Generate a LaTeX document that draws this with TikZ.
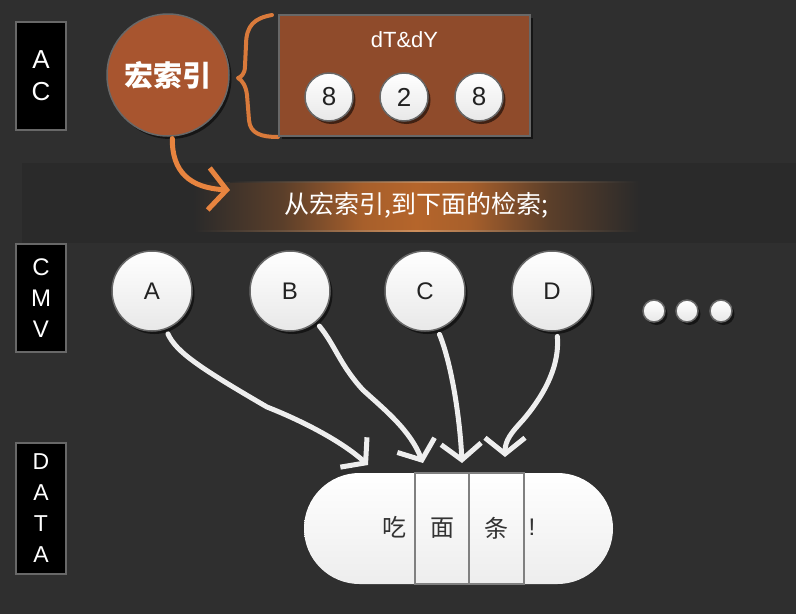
\documentclass[tikz,border=0pt]{standalone}
\usepackage{fontspec}
\setmainfont{Liberation Sans}
\newfontfamily\cjk{Noto Sans CJK SC}
\usetikzlibrary{arrows.meta,shadows,shapes.misc}
\definecolor{bg}{HTML}{2F2F2F}
\definecolor{band}{HTML}{2A2A2A}
\definecolor{rust}{HTML}{A8552F}
\definecolor{rustbox}{HTML}{8F4B2B}
\definecolor{orng}{HTML}{E8843F}
\definecolor{bracec}{HTML}{D97A3B}
\definecolor{edge}{HTML}{686868}
\definecolor{wline}{HTML}{EEEEEE}
\definecolor{glowc}{HTML}{B5652B}
\definecolor{glowl}{HTML}{D9A070}
\definecolor{ink}{HTML}{222222}
\pgfdeclarehorizontalshading{glowshade}{100bp}{color(0bp)=(band); color(25bp)=(band);
  color(35bp)=(glowc!35!band); color(44bp)=(glowc!90!band); color(50bp)=(glowc);
  color(56bp)=(glowc!90!band); color(65bp)=(glowc!35!band); color(75bp)=(band); color(100bp)=(band)}
\pgfdeclarehorizontalshading{glowline}{100bp}{color(0bp)=(band); color(25bp)=(band);
  color(40bp)=(glowl!60!band); color(50bp)=(glowl); color(60bp)=(glowl!60!band);
  color(75bp)=(band); color(100bp)=(band)}
\tikzset{
  lblbox/.style={draw=edge, line width=1.5pt, fill=black, minimum width=50pt,
    text=white, align=center, inner sep=0pt},
  shad/.style={drop shadow={shadow xshift=2.5pt, shadow yshift=-3pt, opacity=0.55, fill=black}},
  ball/.style={circle, draw=edge, line width=1.5pt, top color=white, bottom color=black!9,
    text=ink, inner sep=0pt, shad},
  bigball/.style={ball, minimum size=80pt, font=\fontsize{24}{24}\selectfont},
  numball/.style={ball, minimum size=48pt, font=\fontsize{26}{26}\selectfont},
  dotball/.style={ball, minimum size=22pt},
  warrow/.style={draw=wline, line width=5pt, line cap=round, line join=round,
    -{Straight Barb[length=16pt,width=40pt]}, shorten <=5pt},
  oarrow/.style={draw=orng, line width=5pt, line cap=round, line join=round,
    -{Straight Barb[length=18pt,width=42pt]}, shorten <=2pt},
  cell/.style={draw=black!50, line width=1.5pt, minimum height=111pt, inner sep=0pt},
  pilltext/.style={text=black!80, font=\cjk\fontsize{24}{24}\selectfont, inner sep=0pt}
}
\begin{document}
\begin{tikzpicture}[x=1pt,y=-1pt]
\useasboundingbox (0,0) rectangle (796,614);
\fill[bg] (0,0) rectangle (796,614);
% band
\fill[band] (22,163) rectangle (796,243);
\shade[shading=glowshade] (193,182) rectangle (640,231);
\shade[shading=glowshade, opacity=0.5] (193,188) rectangle (640,225);
\shade[shading=glowline, opacity=0.7] (230,181) rectangle (640,182.5);
\shade[shading=glowline, opacity=0.7] (193,230) rectangle (640,231.5);
\node[text=white, font=\cjk\fontsize{25}{25}\selectfont, inner sep=0pt] (band) at (416,205) {从宏索引,到下面的检索;};

% side labels
\node[lblbox, minimum height=108pt, font=\fontsize{26}{32}\selectfont] (lac) at (41,76) {A\\C};
\node[lblbox, minimum height=108pt, font=\fontsize{24}{31}\selectfont] (lcmv) at (41,298) {C\\M\\V};
\node[lblbox, minimum height=131pt, font=\fontsize{23}{31}\selectfont] (ldata) at (41,508.5) {D\\A\\T\\A};

% hub
\node[circle, draw=edge, line width=1.5pt, fill=rust, minimum size=122pt, inner sep=0pt,
  text=white, font=\cjk\bfseries\fontsize{29}{29}\selectfont, shad] (hub) at (168,75) {宏索引};

% brace
\draw[bracec, line width=4pt, line cap=round, line join=round]
  (272,15) .. controls (255,18) and (246,25) .. (246,45) -- (245,66)
  .. controls (245,74) and (241,77) .. (238,78)
  .. controls (242,80) and (246,86) .. (247,95) -- (249,120)
  .. controls (250,134) and (262,137) .. (278,137);

% top box
\node[draw=edge, line width=1.5pt, fill=rustbox, minimum width=251pt, minimum height=121pt,
  inner sep=0pt, shad] (box) at (404.5,75.5) {};
\node[text=white, font=\fontsize{22}{22}\selectfont, inner sep=0pt] (dtdy) at (404.5,40) {dT\&dY};
\node[numball] (n1) at (329,97) {8};
\node[numball] (n2) at (404,97) {2};
\node[numball] (n3) at (479,97) {8};

% orange arrow
\coordinate (tO) at (230,190);
\draw[oarrow] (hub.-86) .. controls (172,172) and (190,188) .. (tO);

% CMV balls
\node[bigball] (A) at (152,291) {A};
\node[bigball] (B) at (290,291) {B};
\node[bigball] (C) at (425,291) {C};
\node[bigball] (D) at (552,291) {D};
\node[dotball] (d1) at (654,311) {};
\node[dotball] (d2) at (687,311) {};
\node[dotball] (d3) at (721,311) {};

% data pill
\node[rounded rectangle, top color=white, bottom color=black!7, minimum width=309pt,
  minimum height=111pt, inner sep=0pt] (data) at (458.5,528.5) {};
\node[cell, minimum width=54pt] (c1) at (442,528.5) {};
\node[cell, minimum width=55pt] (c2) at (496.5,528.5) {};
\node[pilltext] (w1) at (394.5,527) {吃};
\node[pilltext] (w2) at (c1) {面};
\node[pilltext] (w3) at (c2) {条};
\node[text=black!80, font=\fontsize{24}{24}\selectfont, inner sep=0pt] (w4) at (532,527) {!};

% white arrows
\coordinate (tA) at (368,465);
\coordinate (tB) at (423,463);
\coordinate (tC) at (462,463);
\coordinate (tD) at (505,457);
\draw[warrow] (A.-70) .. controls (176,352) and (200,368) .. (267,407)
  .. controls (300,420) and (340,440) .. (tA);
\draw[warrow] (B.-50) .. controls (335,345) and (340,365) .. (363,390)
  .. controls (385,410) and (410,430) .. (tB);
\draw[warrow] (C.-72) .. controls (452,365) and (460,420) .. (tC);
\draw[warrow] (D.-83) .. controls (560,370) and (540,400) .. (523,420)
  .. controls (512,432) and (505,440) .. (tD);
\end{tikzpicture}
\end{document}
